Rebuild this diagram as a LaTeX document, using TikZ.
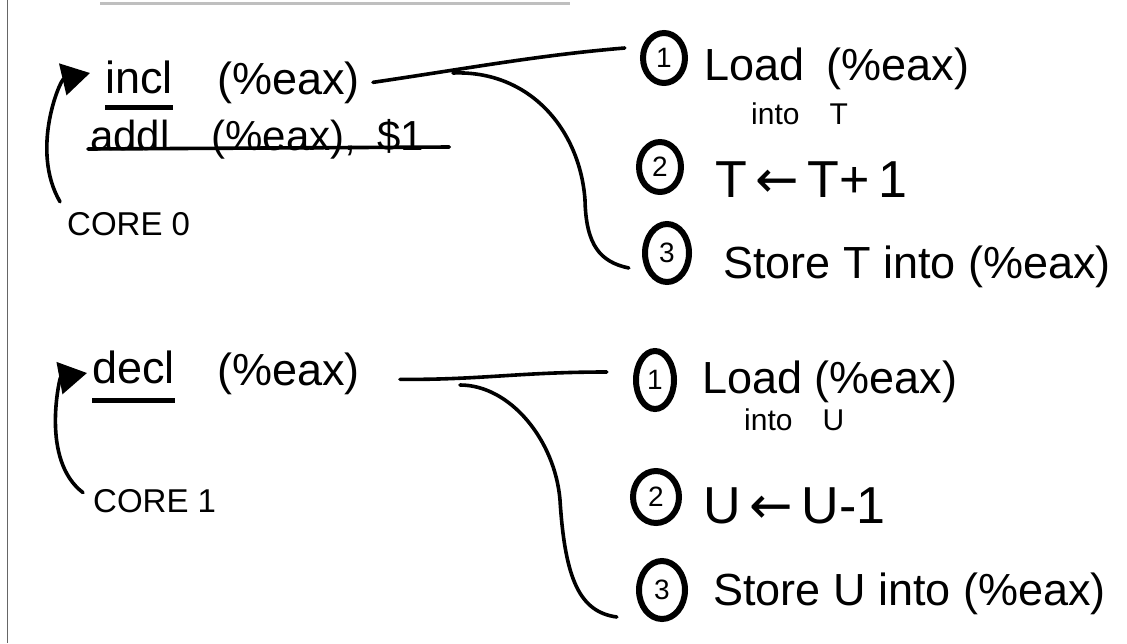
\documentclass[tikz,border=0pt]{standalone}
\usepackage{fontspec}
\setmainfont{Liberation Sans}
\newfontfamily\arrowfont{DejaVu Sans}
\usetikzlibrary{arrows.meta,shapes.geometric}

\begin{document}
\begin{tikzpicture}[x=1pt,y=-1pt,
  hand/.style={inner sep=0pt,anchor=base west,font=\fontsize{45}{52}\selectfont},
  small/.style={inner sep=0pt,anchor=base west,font=\fontsize{30}{36}\selectfont},
  core/.style={inner sep=0pt,anchor=base west,font=\fontsize{33}{40}\selectfont},
  num/.style={ellipse,inner sep=0pt,minimum width=46pt,minimum height=54pt,font=\fontsize{28}{32}\selectfont},
  ring/.style={line width=6pt},
  wire/.style={line width=3.6pt,line cap=round},
  ptr/.style={line width=3.6pt,line cap=round,-{Triangle[length=28pt,width=32pt]}},
  ulbar/.style={line width=5pt}]
\useasboundingbox (0,0) rectangle (1127,643);

% scan edges
\draw[line width=1pt,black!60] (7,0) -- (7,643);
\draw[line width=3pt,black!25] (100,3) -- (570,3);

% core 0
\node[hand] (inclA) at (105,93) {incl};
\node[hand] (eaxA) at (217,94) {(\%eax)};
\node[hand,font=\fontsize{42}{48}\selectfont] (addl) at (90,150) {addl\quad(\%eax),\enspace\$1};
\node[core] (coreA) at (67,235) {CORE 0};
\draw[ulbar] ([yshift=-14pt]inclA.base west) -- ([yshift=-14pt]inclA.base east);
\draw[wire] ([xshift=-2pt,yshift=1pt]addl.base west) -- ([xshift=25pt,yshift=3pt]addl.base east);
\draw[ptr] ([xshift=-7pt,yshift=10pt]coreA.north west) .. controls (30,150) and (60,80) .. (90,73);

\node[num] (oneA) at (664,58) {1};
\node[hand] (loadA) at (704,80) {Load\enspace(\%eax)};
\node[small] (intoA) at (751,124) {into\quad T};
\node[num] (twoA) at (660,167) {2};
\node[hand,font=\fontsize{52}{60}\selectfont] (incA) at (715,197) {T\,{\arrowfont ←}\,T+\,1};
\node[num,minimum height=62pt] (threeA) at (667,253) {3};
\node[hand] (storeA) at (723,278) {Store T into (\%eax)};
\foreach \c in {oneA,twoA} \draw[ring] (\c.center) ellipse [x radius=21, y radius=25];
\draw[ring] (threeA.center) ellipse [x radius=22, y radius=29];

\coordinate (splitA) at (453,73);
\draw[wire] ([xshift=13pt]eaxA.east) .. controls (470,68) and (540,55) .. ([xshift=-16pt,yshift=10pt]oneA.west);
\draw[wire] (splitA) .. controls (530,70) and (580,130) .. (585,200)
  .. controls (586,245) and (600,262) .. ([xshift=-15pt,yshift=-15pt]threeA.west);

% core 1
\node[hand] (declB) at (92,383) {decl};
\node[hand] (eaxB) at (217,385) {(\%eax)};
\node[core] (coreB) at (93,512) {CORE 1};
\draw[ulbar] ([yshift=-17pt]declB.base west) -- ([yshift=-17pt]declB.base east);
\draw[ptr] ([xshift=-10pt,yshift=8pt]coreB.west) .. controls (40,460) and (60,378) .. (87,373);

\node[num] (oneB) at (655,380) {1};
\node[hand] (loadB) at (702,393) {Load (\%eax)};
\node[small] (intoB) at (744,430) {into\quad U};
\node[num] (twoB) at (656,497) {2};
\node[hand,font=\fontsize{52}{60}\selectfont] (decB) at (703,523) {U\,{\arrowfont ←}\,U-1};
\node[num,minimum height=62pt] (threeB) at (662,590) {3};
\node[hand] (storeB) at (713,605) {Store U into (\%eax)};
\draw[ring] (oneB.center) ellipse [x radius=19, y radius=29];
\draw[ring] (twoB.center) ellipse [x radius=23, y radius=26];
\draw[ring] (threeB.center) ellipse [x radius=23, y radius=29];

\coordinate (splitB) at (460,385);
\draw[wire] ([xshift=40pt,yshift=-6pt]eaxB.east) .. controls (480,380) and (520,372) .. ([xshift=-25pt,yshift=8pt]oneB.west);
\draw[wire] (splitB) .. controls (510,385) and (555,440) .. (560,500)
  .. controls (565,580) and (580,612) .. ([xshift=-22pt,yshift=-27pt]threeB.west);

\end{tikzpicture}
\end{document}
